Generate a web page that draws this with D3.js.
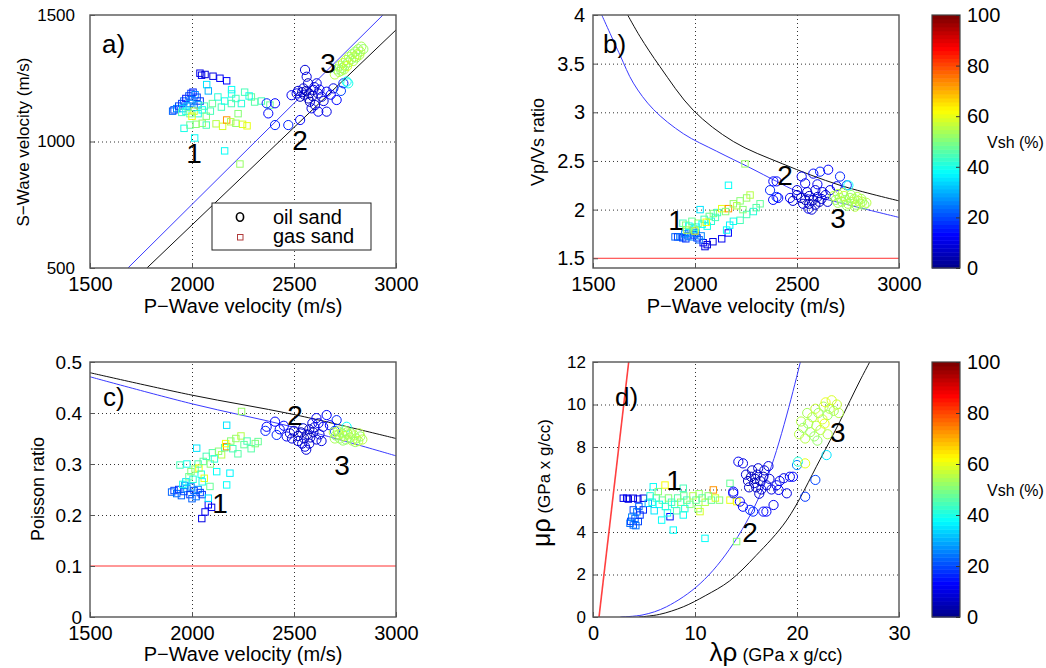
<!DOCTYPE html>
<html>
<head>
<meta charset="utf-8">
<script src="https://cdn.jsdelivr.net/npm/d3@7"></script>
<style>
body { margin: 0; background: #fff; }
text { font-family: "Liberation Sans", Arial, Helvetica, sans-serif; fill: #000; }
</style>
</head>
<body>
<svg id="fig" width="1046" height="668"></svg>
<script>
// ---- tick values ----
const vpTicks = [1500, 2000, 2500, 3000];
const vsTicks = [500, 1000, 1500];
const ratioTicks = [1.5, 2, 2.5, 3, 3.5, 4];
const poissonTicks = [0, 0.1, 0.2, 0.3, 0.4, 0.5];
const lrTicks = [0, 10, 20, 30];
const mrTicks = [0, 2, 4, 6, 8, 10, 12];
const vshTicks = [0, 20, 40, 60, 80, 100];

// ---- reference lines ----
const aBlueLine = [[1686, 500], [2936, 1500]];
const aBlackLine = [[1779, 500], [3000, 1441]];
const bBlueCurve = [[1543, 4.0], [1632, 3.59], [1698, 3.30], [1796, 3.03], [1943, 2.78], [2106, 2.60], [2270, 2.43], [2400, 2.29], [2500, 2.19], [2750, 2.05], [3000, 1.92]];
const bBlackCurve = [[1670, 4.0], [1730, 3.78], [1828, 3.47], [1992, 3.02], [2188, 2.70], [2430, 2.47], [2711, 2.25], [3000, 2.09]];
const bRedLine = [[1500, 1.5], [3000, 1.5]];
const cBlackLine = [[1500, 0.479], [2000, 0.435], [2500, 0.397], [3000, 0.350]];
const cBlueLine = [[1500, 0.471], [2000, 0.418], [2500, 0.372], [3000, 0.316]];
const cRedLine = [[1500, 0.1], [3000, 0.1]];
const dRedLine = [[0.59, 0], [3.5, 12]];
const dBlueCurve = [[2.7, 0], [4.9, 0.1], [7.2, 0.48], [10.5, 1.57], [13.75, 3.45], [17.0, 6.45], [20.3, 11.94], [20.5, 12.4]];
const dBlackCurve = [[4.5, 0], [6.5, 0.12], [8.85, 0.48], [11, 1.0], [13.4, 1.7], [16, 2.9], [19, 4.56], [22.25, 7.4], [24.2, 9.2], [26.2, 11.15], [27.8, 12.6]];

// ---- panel a: Vp, Vs, Vsh ----
const aSquares = [
  [2039,1270,10],[2047,1262,12],[2064,1265,8],[2103,1258,10],[2137,1250,12],[2170,1240,14],
  [2072,1225,35],[2194,1205,38],[2080,1200,30],
  [1905,1120,22],[1912,1125,20],[1925,1130,25],[1935,1140,20],[1950,1150,18],[1960,1160,22],[1970,1170,15],[1985,1180,20],[1995,1190,18],[2005,1195,16],[2015,1185,25],[2025,1175,20],[2000,1165,24],[1990,1150,28],[1975,1140,30],[1955,1130,32],[2040,1160,18],[2030,1145,28],[2010,1135,22],
  [1950,1115,45],[1970,1120,40],[1990,1110,48],[2010,1120,55],[2030,1110,42],[2050,1125,38],[2060,1140,45],[2000,1100,62],[2070,1100,50],[2090,1120,45],[2100,1150,48],
  [2127,1176,42],[2144,1136,45],[2160,1160,40],[2193,1150,45],[2194,1188,40],[2215,1170,45],[2242,1150,42],[2258,1195,44],[2291,1176,48],[2307,1156,46],[2226,1110,50],[2280,1180,40],[2382,1144,48],[2340,1160,45],
  [1961,1052,40],[1990,1065,48],[2020,1068,50],[2050,1072,52],[2070,1065,45],[2118,1070,55],[2150,1060,58],[2170,1085,72],[2190,1078,55],[2215,1072,52],[2248,1068,58],[2270,1062,60],
  [2013,1014,38],[2160,963,38],[2235,911,52]
];
const aCircles = [
  [2554,1283,8],[2562,1256,10],[2569,1230,6],[2546,1210,8],[2513,1190,10],[2488,1183,12],[2530,1177,6],[2595,1204,8],[2611,1230,10],[2618,1190,6],[2636,1177,8],[2660,1197,12],[2578,1157,6],[2603,1144,8],[2586,1131,10],[2619,1118,12],[2660,1118,10],[2709,1164,14],[2693,1210,10],[2742,1230,16],
  [2407,1151,14],[2374,1111,14],[2407,1065,16],[2472,1065,16],[2530,1085,14],[2366,1151,16],[2540,1195,5],[2560,1200,5],[2575,1190,4],[2590,1180,6],[2550,1185,7],[2520,1200,9],[2600,1215,9],[2625,1205,11],[2570,1170,5],[2645,1160,10],[2680,1185,13],[2730,1200,20],[2766,1230,40],[2758,1237,38]
];
const aGreen = [
  [2700,1265,55],[2710,1285,52],[2720,1275,56],[2725,1300,54],[2735,1290,52],[2740,1310,57],[2750,1300,53],[2755,1322,55],[2765,1312,52],[2770,1335,56],[2780,1325,54],[2785,1345,52],[2795,1335,57],[2800,1355,53],[2810,1345,55],[2815,1365,52],[2825,1355,56],[2830,1375,54],[2840,1365,53],[2745,1285,55],[2760,1298,58],[2790,1318,56],[2805,1332,52],[2820,1342,55],[2732,1280,53]
];

// ---- panel b: Vp, Vp/Vs, Vsh ----
const bSquares = [
  [2049,1.62,10],[2060,1.64,8],[2088,1.67,10],[2131,1.70,12],[2163,1.76,14],[2040,1.66,12],
  [1902,1.72,22],[1915,1.72,20],[1926,1.72,24],[1940,1.71,20],[1955,1.70,18],[1965,1.73,22],[1980,1.72,25],[1995,1.74,20],[2010,1.71,18],[2020,1.69,22],[2030,1.73,26],[1970,1.76,28],[1990,1.78,24],[2005,1.76,22],[1950,1.75,26],
  [1941,1.86,45],[1955,1.84,50],[1970,1.83,40],[1985,1.88,48],[1995,1.80,35],[2005,1.82,42],[2015,1.86,52],[2025,2.00,35],[2035,1.85,38],[2045,1.90,45],[2060,1.83,40],[2070,1.93,48],[2080,1.88,42],[2090,1.96,50],[2100,1.92,44],[1960,1.79,55],[2000,1.78,60],[2055,1.87,62],
  [2110,1.97,45],[2131,2.01,60],[2164,2.01,72],[2150,1.98,50],[2188,2.06,52],[2205,2.04,55],[2221,2.09,50],[2253,2.12,52],[2270,2.15,55],[2319,2.06,48],[2286,1.98,42],[2253,1.95,45],[2221,1.89,44],[2188,1.88,40],[2155,1.79,38],[2170,1.84,36],[2164,2.25,38],[2245,2.47,52],[2300,2.02,46],[2235,2.00,50]
];
const bCircles = [
  [2384,2.29,14],[2368,2.20,16],[2408,2.12,14],[2466,2.12,12],[2523,2.34,12],[2580,2.37,14],[2613,2.39,16],[2653,2.41,14],[2711,2.34,16],[2695,2.24,12],[2744,2.25,20],[2662,2.20,10],[2556,2.01,10],[2572,2.00,8],[2400,2.29,14],[2400,2.13,16],[2383,2.10,14],
  [2500,2.15,6],[2520,2.12,5],[2540,2.10,6],[2560,2.14,5],[2580,2.10,6],[2600,2.13,7],[2620,2.11,8],[2640,2.15,9],[2530,2.06,8],[2560,2.06,6],[2590,2.05,7],[2610,2.08,6],[2550,2.18,8],[2590,2.20,9],[2625,2.18,10],[2480,2.09,9],[2500,2.20,10],[2650,2.08,9],[2600,2.26,12],[2540,2.27,12],[2752,2.25,38]
];
const bGreen = [
  [2680,2.14,55],[2690,2.10,53],[2700,2.16,56],[2710,2.12,52],[2720,2.08,54],[2730,2.14,57],[2740,2.10,53],[2750,2.06,55],[2760,2.12,52],[2770,2.08,56],[2780,2.11,54],[2790,2.05,52],[2800,2.09,57],[2810,2.06,53],[2820,2.08,55],[2830,2.05,52],[2840,2.07,56],[2700,2.07,54],[2725,2.17,55],[2765,2.15,53],[2795,2.13,56],[2815,2.11,54],[2745,2.04,52],[2785,2.03,55]
];

// ---- panel c: Vp, Poisson ratio, Vsh ----
const cSquares = [
  [2048,0.193,10],[2064,0.206,12],[2096,0.215,10],[2080,0.220,14],
  [1900,0.245,22],[1912,0.248,20],[1925,0.242,24],[1935,0.250,18],[1948,0.238,22],[1960,0.246,20],[1975,0.252,25],[1990,0.240,18],[2000,0.232,22],[2010,0.248,20],[2020,0.236,24],[2030,0.250,26],[2040,0.244,20],[2050,0.240,18],[1965,0.258,28],[1995,0.255,26],
  [1941,0.298,45],[1955,0.260,40],[1970,0.265,35],[1985,0.275,48],[1995,0.285,50],[2005,0.270,42],[2015,0.290,52],[2023,0.331,35],[2030,0.300,45],[2034,0.292,62],[2045,0.280,40],[2055,0.305,48],[2060,0.272,60],[2070,0.315,44],[2080,0.233,35],[2088,0.256,48],[2090,0.300,50],[2100,0.322,46],[2110,0.310,42],[2121,0.285,38],[2130,0.325,50],[2145,0.318,55],[2160,0.332,45],[2170,0.334,72],[2165,0.340,62],[2170,0.259,38],[2186,0.282,36],[2190,0.345,50],[2200,0.330,44],[2215,0.350,52],[2225,0.320,46],[2240,0.355,55],[2255,0.338,48],[2270,0.345,45],[2290,0.330,46],[2310,0.340,50],[2324,0.344,48],[2170,0.376,35],[2243,0.403,52],[2050,0.265,40],[1975,0.300,40]
];
const cCircles = [
  [2366,0.373,14],[2360,0.365,16],[2407,0.383,14],[2415,0.357,16],[2464,0.354,12],[2554,0.334,10],[2560,0.328,8],[2575,0.340,9],[2610,0.390,12],[2660,0.396,14],[2709,0.386,16],[2643,0.373,12],[2676,0.376,14],[2590,0.380,10],
  [2480,0.360,8],[2500,0.365,6],[2520,0.355,5],[2535,0.362,6],[2550,0.350,5],[2565,0.358,6],[2580,0.352,7],[2595,0.362,6],[2610,0.348,8],[2625,0.358,9],[2545,0.370,7],[2575,0.368,6],[2600,0.372,8],[2490,0.350,9],[2520,0.345,8],[2635,0.345,10],[2450,0.375,14],[2430,0.368,12],[2620,0.380,11],[2700,0.365,20],[2540,0.340,8],[2758,0.373,38]
];
const cGreen = [
  [2695,0.362,55],[2705,0.356,53],[2715,0.364,56],[2725,0.350,52],[2735,0.360,54],[2745,0.355,57],[2755,0.348,53],[2765,0.358,55],[2775,0.352,52],[2785,0.346,56],[2795,0.356,54],[2805,0.350,52],[2815,0.345,57],[2825,0.354,53],[2835,0.348,55],[2700,0.350,54],[2720,0.358,55],[2740,0.346,53],[2760,0.362,56],[2780,0.360,54],[2800,0.343,52],[2820,0.360,55],[2750,0.365,53]
];

// ---- panel d: lambda-rho, mu-rho, Vsh ----
const dSquares = [
  [2.97,5.59,10],[3.3,5.59,12],[3.46,5.55,10],[3.95,5.59,8],[4.4,5.55,12],[4.93,5.59,10],
  [3.95,5.04,20],[4.12,4.64,22],[3.63,4.41,24],[3.95,4.33,22],[4.44,4.49,20],[4.61,4.80,18],[4.3,4.95,24],[4.93,5.04,16],[3.8,4.7,26],[4.5,5.2,22],[3.7,4.5,20],[4.2,4.3,24],
  [5.42,5.35,30],[5.91,6.13,38],[7.06,6.21,62],[6.73,4.56,38],[7.55,4.72,15],[7.87,4.09,38],[8.85,4.80,38],[8.85,6.06,45],[10.49,4.96,58],[10.3,5.1,50],[11.8,5.98,72],[13.43,6.29,48],[13.43,5.50,60],[10.98,3.70,38],[14.08,3.55,50],[14.1,5.43,62],
  [5.8,5.4,40],[6.2,5.6,45],[6.5,5.3,38],[6.8,5.5,48],[7.1,5.2,42],[7.4,5.6,50],[7.7,5.4,44],[8.0,5.3,40],[8.3,5.6,46],[8.6,5.4,52],[8.9,5.7,48],[9.2,5.5,44],[9.5,5.3,50],[9.8,5.7,55],[10.1,5.5,48],[10.4,5.8,52],[10.7,5.6,46],[11.0,5.4,55],[11.3,5.7,50],[11.6,5.5,48],[12.0,5.6,58],[12.4,5.5,50],[6.0,5.0,35],[7.3,4.9,40],[8.2,5.0,44],[9.0,5.1,42],[5.6,5.7,42],[6.4,5.9,50]
];
const dCircles = [
  [14.25,7.31,12],[14.7,7.23,10],[13.75,5.82,14],[14.4,5.43,12],[14.7,5.19,14],[15.7,4.96,16],[17.0,4.96,14],[17.7,5.27,12],[19.0,5.82,10],[18.2,5.98,12],[18.7,6.53,10],[19.6,6.60,14],[20.8,5.66,18],[21.8,6.45,20],[20.0,7.15,25],[13.75,5.9,14],[15.4,5.04,16],[16.7,4.96,14],[19.3,6.6,12],
  [15.2,6.4,6],[15.5,6.6,5],[15.8,6.3,6],[16.1,6.7,5],[16.4,6.4,7],[16.7,6.6,6],[17.0,6.2,8],[15.6,6.9,7],[16.2,7.0,8],[16.8,6.9,9],[15.3,6.1,8],[16.0,6.1,6],[17.3,6.5,9],[16.5,6.0,7],[15.9,6.5,5],[17.5,6.0,10],[18.0,6.2,11],[16.3,5.8,9],[15.0,6.7,9],[17.2,7.1,10],[18.3,6.4,12],
  [20.1,7.31,42],[20.8,7.23,60],[22.9,7.62,35]
];
const dGreen = [
  [20.2,8.6,55],[20.6,8.9,53],[20.8,8.4,56],[21.1,9.1,52],[21.3,8.7,54],[21.5,9.4,57],[21.7,8.5,53],[21.9,9.0,55],[22.1,9.6,52],[22.3,8.8,56],[22.5,9.3,58],[22.6,9.9,54],[22.8,10.1,60],[23.0,9.5,53],[23.2,9.8,56],[23.4,10.2,58],[23.6,9.7,54],[23.9,10.0,57],[24.1,9.6,55],[21.0,9.6,54],[20.4,9.2,56],[22.0,8.3,53],[23.0,8.6,55],[21.8,9.8,57],[22.7,9.1,60]
];

// group number annotations (data coords)
const aNotes = [["1", 2010, 915], ["2", 2529, 966], ["3", 2667, 1271]];
const bNotes = [["1", 1907, 1.79], ["2", 2441, 2.25], ["3", 2701, 1.81]];
const cNotes = [["1", 2137, 0.204], ["2", 2505, 0.376], ["3", 2735, 0.278]];
const dNotes = [["1", 7.94, 5.98], ["2", 15.4, 3.53], ["3", 24.0, 8.24]];

// jet colormap, 64 levels like MATLAB
const jetScale = d3.scaleLinear()
  .domain([0, 0.125, 0.375, 0.625, 0.875, 1])
  .range(["#00008f", "#0000ff", "#00ffff", "#ffff00", "#ff0000", "#800000"]);
function jet(v) {
  const i = Math.max(0, Math.min(63, Math.floor(v / 100 * 64)));
  return jetScale(i / 63);
}

const svg = d3.select("#fig");

function drawPanel(p) {
  const x = d3.scaleLinear().domain(p.xDom).range([p.left, p.right]);
  const y = d3.scaleLinear().domain(p.yDom).range([p.bottom, p.top]);
  const w = p.right - p.left, h = p.bottom - p.top;
  const g = svg.append("g");

  // dotted grid (skipped where a reference line covers it)
  const skip = p.noGrid || [];
  const innerX = p.xTicks.filter(t => t > p.xDom[0] && t < p.xDom[1]);
  const innerY = p.yTicks.filter(t => t > p.yDom[0] && t < p.yDom[1] && !skip.includes(t));
  g.append("g").attr("transform", `translate(0,${p.bottom})`)
    .call(d3.axisBottom(x).tickValues(innerX).tickSize(-h).tickFormat(""))
    .call(s => s.select(".domain").remove())
    .selectAll("line").attr("stroke", "#333").attr("stroke-dasharray", "1,3");
  g.append("g").attr("transform", `translate(${p.left},0)`)
    .call(d3.axisLeft(y).tickValues(innerY).tickSize(-w).tickFormat(""))
    .call(s => s.select(".domain").remove())
    .selectAll("line").attr("stroke", "#333").attr("stroke-dasharray", "1,3");

  const clipId = "clip-" + p.name;
  svg.append("clipPath").attr("id", clipId).append("rect")
    .attr("x", p.left).attr("y", p.top).attr("width", w).attr("height", h);
  const plot = g.append("g").attr("clip-path", `url(#${clipId})`);

  const line = d3.line().x(d => x(d[0])).y(d => y(d[1])).curve(d3.curveCatmullRom.alpha(0.5));
  p.lines.forEach(l => {
    plot.append("path").datum(l.pts).attr("d", line)
      .attr("fill", "none").attr("stroke", l.color).attr("stroke-width", l.width || 1);
  });

  plot.selectAll(".sq").data(p.squares).join("rect").attr("class", "sq")
    .attr("x", d => x(d[0]) - 3.2).attr("y", d => y(d[1]) - 3.2)
    .attr("width", 6.4).attr("height", 6.4)
    .attr("fill", "none").attr("stroke", d => jet(d[2])).attr("stroke-width", 1);
  plot.selectAll(".ci").data(p.circles.concat(p.green)).join("circle").attr("class", "ci")
    .attr("cx", d => x(d[0])).attr("cy", d => y(d[1])).attr("r", 4.6)
    .attr("fill", "none").attr("stroke", d => jet(d[2])).attr("stroke-width", 1);

  // box
  g.append("rect").attr("x", p.left).attr("y", p.top).attr("width", w).attr("height", h)
    .attr("fill", "none").attr("stroke", "#555").attr("stroke-width", 1.4);

  // axes with inward ticks
  const ax = g.append("g").attr("transform", `translate(0,${p.bottom})`)
    .call(d3.axisBottom(x).tickValues(p.xTicks).tickSizeInner(-5).tickSizeOuter(0)
      .tickPadding(9).tickFormat(d => String(d)));
  ax.select(".domain").remove();
  ax.selectAll("line").attr("stroke", "#555");
  ax.selectAll("text").attr("font-size", 20).attr("font-family", null).attr("fill", "#000");
  const ay = g.append("g").attr("transform", `translate(${p.left},0)`)
    .call(d3.axisLeft(y).tickValues(p.yTicks).tickSizeInner(-5).tickSizeOuter(0)
      .tickPadding(p.yPad).tickFormat(d => String(d)));
  ay.select(".domain").remove();
  ay.selectAll("line").attr("stroke", "#555");
  ay.selectAll("text").attr("font-size", p.yFont).attr("font-family", null).attr("fill", "#000");

  // panel letter
  g.append("text").attr("x", p.left + p.letterDx).attr("y", p.top + p.letterDy)
    .attr("font-size", 26).text(p.letter);

  // group numbers
  g.selectAll(".note").data(p.notes).join("text").attr("class", "note")
    .attr("x", d => x(d[1])).attr("y", d => y(d[2]))
    .attr("text-anchor", "middle").attr("font-size", 28).text(d => d[0]);

  return { g, x, y };
}

function drawColorbar(top, bottom) {
  const left = 932, right = 960;
  const y = d3.scaleLinear().domain([0, 100]).range([bottom, top]);
  const g = svg.append("g");
  const levels = d3.range(64);
  g.selectAll("rect.lev").data(levels).join("rect").attr("class", "lev")
    .attr("x", left).attr("width", right - left)
    .attr("y", i => y((i + 1) * 100 / 64)).attr("height", i => y(i * 100 / 64) - y((i + 1) * 100 / 64) + 0.5)
    .attr("fill", i => jetScale(i / 63));
  g.append("rect").attr("x", left).attr("y", top).attr("width", right - left).attr("height", bottom - top)
    .attr("fill", "none").attr("stroke", "#444").attr("stroke-width", 1.2);
  const a = g.append("g").attr("transform", `translate(${right},0)`)
    .call(d3.axisRight(y).tickValues(vshTicks).tickSizeInner(-4).tickSizeOuter(0).tickPadding(7).tickFormat(d => String(d)));
  a.select(".domain").remove();
  a.selectAll("line").attr("stroke", "#333");
  a.selectAll("text").attr("font-size", 20).attr("font-family", null).attr("fill", "#000");
  g.append("text").attr("x", 987).attr("y", (top + bottom) / 2 + 6).attr("font-size", 16).text("Vsh (%)");
}

// ---- panels ----
drawPanel({
  name: "a", left: 90, right: 396, top: 15, bottom: 268,
  xDom: [1500, 3000], yDom: [500, 1500], xTicks: vpTicks, yTicks: vsTicks, yPad: 15, yFont: 17,
  lines: [{ pts: aBlueLine, color: "#3a3aff" }, { pts: aBlackLine, color: "#111" }],
  squares: aSquares, circles: aCircles, green: aGreen, notes: aNotes,
  letter: "a)", letterDx: 12, letterDy: 38
});
drawPanel({
  name: "b", left: 593, right: 899, top: 15, bottom: 268,
  xDom: [1500, 3000], yDom: [1.4, 4], xTicks: vpTicks, yTicks: ratioTicks, yPad: 8, yFont: 20, noGrid: [1.5],
  lines: [{ pts: bBlueCurve, color: "#3a3aff" }, { pts: bBlackCurve, color: "#111" }, { pts: bRedLine, color: "#ff3030" }],
  squares: bSquares, circles: bCircles, green: bGreen, notes: bNotes,
  letter: "b)", letterDx: 10, letterDy: 38
});
drawPanel({
  name: "c", left: 90, right: 396, top: 362, bottom: 617,
  xDom: [1500, 3000], yDom: [0, 0.5], xTicks: vpTicks, yTicks: poissonTicks, yPad: 8, yFont: 19, noGrid: [0.1],
  lines: [{ pts: cBlackLine, color: "#111" }, { pts: cBlueLine, color: "#3a3aff" }, { pts: cRedLine, color: "#ff3030" }],
  squares: cSquares, circles: cCircles, green: cGreen, notes: cNotes,
  letter: "c)", letterDx: 13, letterDy: 44
});
drawPanel({
  name: "d", left: 593, right: 899, top: 362, bottom: 617,
  xDom: [0, 30], yDom: [0, 12], xTicks: lrTicks, yTicks: mrTicks, yPad: 7, yFont: 17,
  lines: [{ pts: dRedLine, color: "#ff4040", width: 1.6 }, { pts: dBlueCurve, color: "#3a3aff" }, { pts: dBlackCurve, color: "#111" }],
  squares: dSquares, circles: dCircles, green: dGreen, notes: dNotes,
  letter: "d)", letterDx: 22, letterDy: 44
});

drawColorbar(15, 268);
drawColorbar(362, 617);

// ---- axis titles ----
function xTitle(cx, y, txt) {
  svg.append("text").attr("x", cx).attr("y", y).attr("text-anchor", "middle")
    .attr("font-size", 20).text(txt);
}
function yTitle(x, cy, txt, size) {
  svg.append("text").attr("transform", `translate(${x},${cy}) rotate(-90)`)
    .attr("text-anchor", "middle").attr("font-size", size).text(txt);
}
xTitle(243, 313, "P\u2212Wave velocity (m/s)");
xTitle(746, 313, "P\u2212Wave velocity (m/s)");
xTitle(243, 661, "P\u2212Wave velocity (m/s)");
yTitle(29, 142, "S\u2212Wave velocity (m/s)", 17);
yTitle(544, 142, "Vp/Vs ratio", 18);
yTitle(44, 489, "Poisson ratio", 18);

// lambda-rho title
const lt = svg.append("text").attr("x", 776).attr("y", 661).attr("text-anchor", "middle");
lt.append("tspan").attr("font-size", 26).text("\u03bb\u03c1");
lt.append("tspan").attr("font-size", 18).text(" (GPa x g/cc)");
// mu-rho title
const mt = svg.append("text").attr("transform", "translate(550,483) rotate(-90)").attr("text-anchor", "middle");
mt.append("tspan").attr("font-size", 25).text("\u03bc\u03c1");
mt.append("tspan").attr("font-size", 17).text(" (GPa x g/cc)");

// ---- legend in panel a ----
const leg = svg.append("g");
leg.append("rect").attr("x", 212).attr("y", 203).attr("width", 159).attr("height", 47)
  .attr("fill", "#fff").attr("stroke", "#222").attr("stroke-width", 1);
leg.append("ellipse").attr("cx", 240).attr("cy", 217).attr("rx", 3.6).attr("ry", 4.2)
  .attr("fill", "none").attr("stroke", "#000").attr("stroke-width", 1.6);
leg.append("rect").attr("x", 237.5).attr("y", 234.5).attr("width", 5.5).attr("height", 5.5)
  .attr("fill", "none").attr("stroke", "#b03a3a").attr("stroke-width", 1);
leg.append("text").attr("x", 273).attr("y", 224).attr("font-size", 20).text("oil sand");
leg.append("text").attr("x", 273).attr("y", 243).attr("font-size", 20).text("gas sand");
</script>
</body>
</html>
